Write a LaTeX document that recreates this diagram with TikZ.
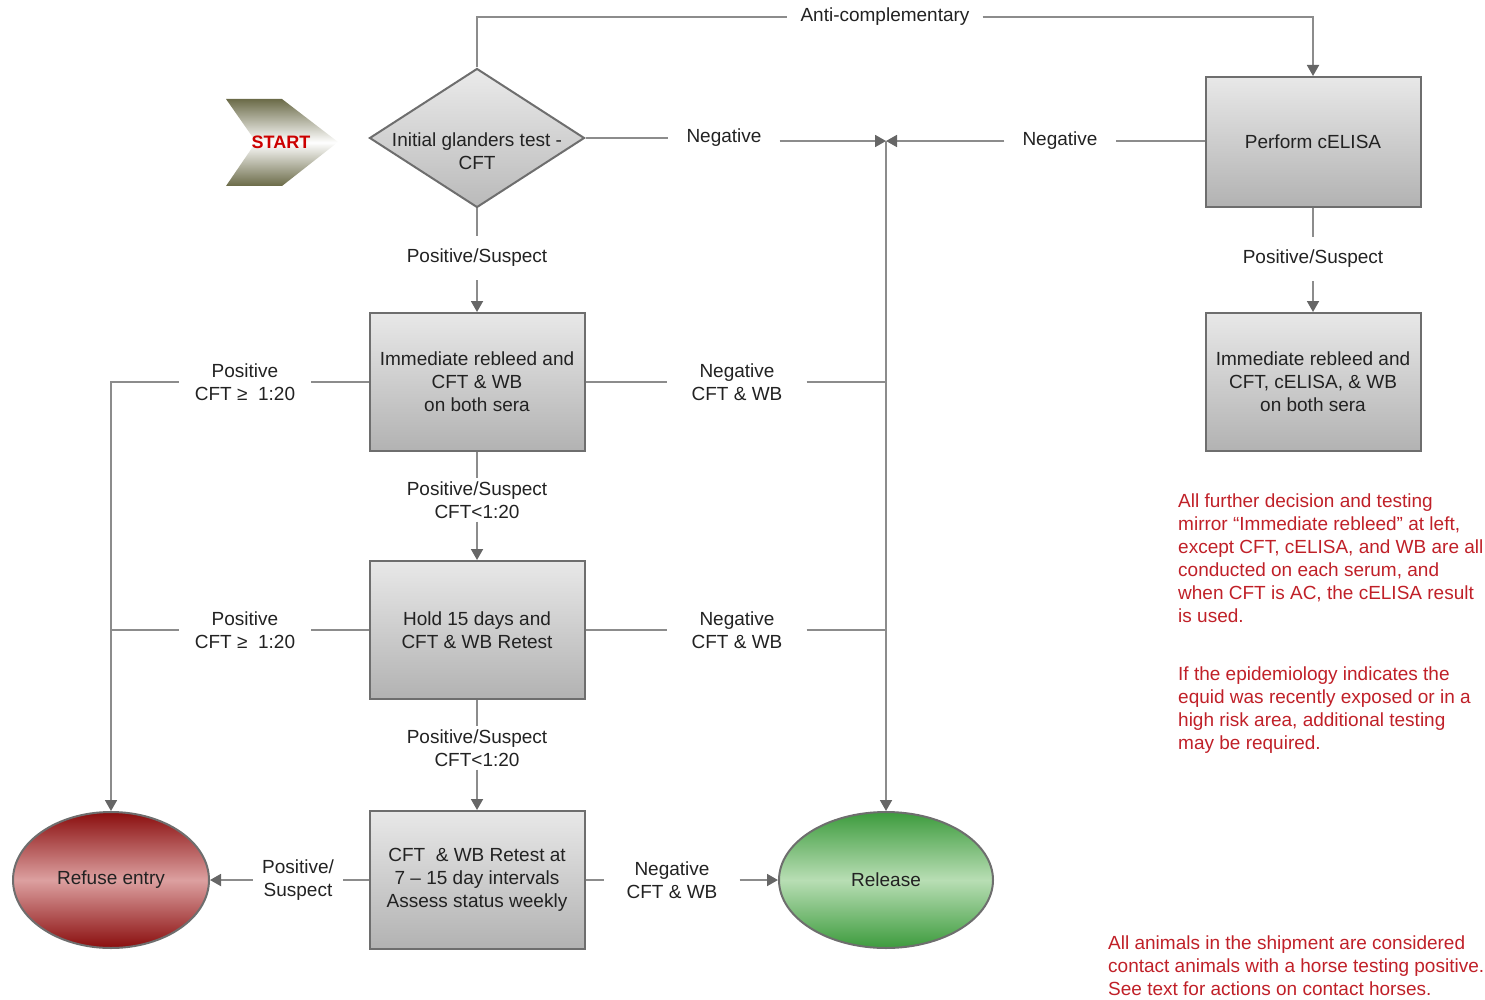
\documentclass[tikz,border=0pt]{standalone}
\usepackage{fontspec}
\setmainfont{Liberation Sans}
\usetikzlibrary{shapes.geometric,arrows.meta}
\definecolor{linegray}{HTML}{8C8C8C}
\definecolor{tipgray}{HTML}{666666}
\definecolor{bordergray}{HTML}{6E6E6E}
\definecolor{boxtop}{HTML}{E8E8E8}
\definecolor{boxbot}{HTML}{B2B2B2}
\definecolor{txtgray}{HTML}{222222}
\definecolor{notered}{RGB}{192,32,40}
\definecolor{redtop}{HTML}{8A0E0E}
\definecolor{redmid}{HTML}{DCA0A0}
\definecolor{greentop}{HTML}{3D9B3D}
\definecolor{greenmid}{HTML}{B8DEB4}
\definecolor{olive}{HTML}{6B6B48}
\begin{document}
\begin{tikzpicture}[x=1pt,y=-1pt,
  conn/.style={draw=linegray, line width=1.8pt},
  arr/.style={conn, -{Triangle[length=11pt,width=12pt,color=tipgray]}},
  txt/.style={font=\fontsize{19}{23}\selectfont, text=txtgray, align=center},
  lbl/.style={txt, inner sep=0pt},
  box/.style={rectangle, draw=bordergray, line width=2pt, top color=boxtop, bottom color=boxbot, minimum width=215pt, minimum height=138pt, txt},
  oval/.style={ellipse, draw=bordergray, line width=2pt, minimum height=136pt, txt},
  note/.style={font=\fontsize{19}{23}\selectfont, text=notered, align=left, anchor=north west, inner sep=0pt}
]
\useasboundingbox (0,0) rectangle (1485,1000);

% START chevron
\path[top color=olive, bottom color=olive, middle color=white, shading angle=0]
  (226,99) -- (282,99) -- (338,142) -- (282,186) -- (226,186) -- (256,142) -- cycle;
\node[font=\fontsize{18}{20}\selectfont\bfseries, text=red!80!black, inner sep=0pt] (start) at (281,142) {START};

% Diamond
\node[diamond, draw=bordergray, line width=2pt, top color=boxtop!90!white, bottom color=boxbot!90!white, minimum width=215pt, minimum height=139pt, inner sep=0pt] (d) at (477,138) {};
\node[txt, inner sep=0pt] (dt) at (477,151) {Initial glanders test -\\CFT};

% Boxes
\node[box] (b1) at (477,382) {Immediate rebleed and\\CFT \& WB\\on both sera};
\node[box] (b2) at (477,630) {Hold 15 days and\\CFT \& WB Retest};
\node[box] (b3) at (477,880) {CFT~ \& WB Retest at\\7 – 15 day intervals\\Assess status weekly};
\node[box, minimum height=130pt] (c1) at (1313,142) {Perform cELISA};
\node[box] (c2) at (1313,382) {Immediate rebleed and\\CFT, cELISA, \& WB\\on both sera};

% Ovals
\node[oval, minimum width=196pt, top color=redtop, bottom color=redtop, middle color=redmid] (refuse) at (111,880) {Refuse entry};
\node[oval, minimum width=214pt, top color=greentop, bottom color=greentop, middle color=greenmid] (release) at (886,880) {Release};

% Junction
\coordinate (j) at (886,141);

% Labels
\node[lbl, inner xsep=13pt] (ac) at (885,17) {Anti-complementary};
\node[lbl, inner xsep=18pt] (n0) at (724,138) {Negative};
\node[lbl, inner xsep=18pt] (n0r) at (1060,141) {Negative};
\node[lbl, inner ysep=13pt] (ps0) at (477,258) {Positive/Suspect};
\node[lbl, inner ysep=13pt] (psc) at (1313,259) {Positive/Suspect};
\node[lbl, inner ysep=3pt] (ps1) at (477,500) {Positive/Suspect\\CFT<1:20};
\node[lbl, inner ysep=3pt] (ps2) at (477,748) {Positive/Suspect\\CFT<1:20};
\node[lbl, inner xsep=16pt] (p1) at (245,382) {Positive\\CFT ≥~ 1:20};
\node[lbl, inner xsep=16pt] (p2) at (245,630) {Positive\\CFT ≥~ 1:20};
\node[lbl, inner xsep=24pt] (n1) at (737,382) {Negative\\CFT \& WB};
\node[lbl, inner xsep=24pt] (n2) at (737,630) {Negative\\CFT \& WB};
\node[lbl, inner xsep=9pt] (p3) at (298,880) {Positive/\\Suspect};
\node[lbl, inner xsep=22pt] (n3) at (672,880) {Negative\\CFT \& WB};

% Connectors
\draw[conn] (d.north) |- (ac.west);
\draw[arr] (ac.east) -| (c1.north);
\draw[conn] (d.east) -- (n0.west);
\draw[arr] (n0.east |- j) -- (j);
\draw[conn] (c1.west |- j) -- (n0r.east);
\draw[arr] (n0r.west) -- (j);
\draw[arr] (j) -- (release.north);
\draw[conn] (d.south) -- (ps0.north);
\draw[arr] (ps0.south) -- (b1.north);
\draw[conn] (c1.south) -- (psc.north);
\draw[arr] (psc.south) -- (c2.north);
\draw[conn] (b1.south) -- (ps1.north);
\draw[arr] (ps1.south) -- (b2.north);
\draw[conn] (b2.south) -- (ps2.north);
\draw[arr] (ps2.south) -- (b3.north);
\draw[conn] (b1.west) -- (p1.east);
\draw[conn] (b2.west) -- (p2.east);
\draw[conn] (p2.west) -- (p2.west -| refuse.north);
\draw[arr] (p1.west) -| (refuse.north);
\draw[conn] (b1.east) -- (n1.west);
\draw[conn] (n1.east) -- (n1.east -| j);
\draw[conn] (b2.east) -- (n2.west);
\draw[conn] (n2.east) -- (n2.east -| j);
\draw[conn] (b3.west) -- (p3.east);
\draw[arr] (p3.west) -- (refuse.east);
\draw[conn] (b3.east) -- (n3.west);
\draw[arr] (n3.east) -- (release.west);

% Notes
\node[note] (note1) at (1178,494) {All further decision and testing\\mirror “Immediate rebleed” at left,\\except CFT, cELISA, and WB are all\\conducted on each serum, and\\when CFT is AC, the cELISA result\\is used.};
\node[note] (note2) at (1178,667) {If the epidemiology indicates the\\equid was recently exposed or in a\\high risk area, additional testing\\may be required.};
\node[note] (note3) at (1108,936) {All animals in the shipment are considered\\contact animals with a horse testing positive.\\See text for actions on contact horses.};
\end{tikzpicture}
\end{document}
